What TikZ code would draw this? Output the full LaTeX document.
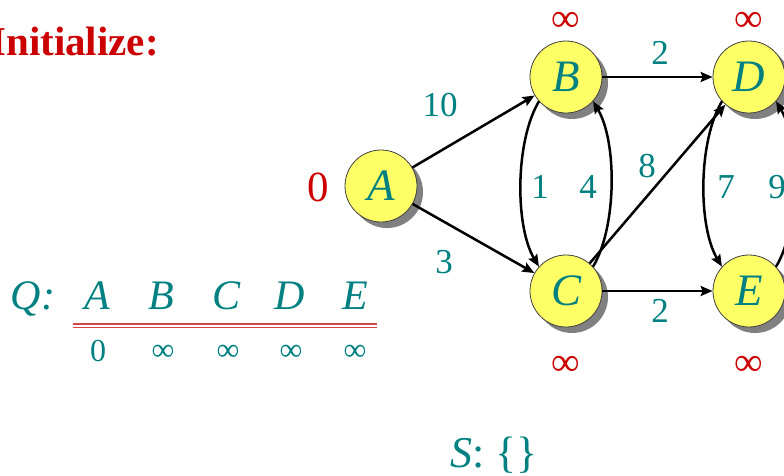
\documentclass[tikz,border=0pt]{standalone}
\usepackage{fontspec}
\setmainfont{Liberation Serif}
\usetikzlibrary{arrows.meta,shadows}
\definecolor{tealc}{RGB}{0,128,128}
\definecolor{redc}{RGB}{204,0,0}
\definecolor{nodeyellow}{RGB}{255,255,102}
\definecolor{dlinec}{RGB}{215,70,70}
\definecolor{shadowc}{RGB}{128,128,128}
\newcommand\fsz[1]{\fontsize{#1}{#1}\selectfont}
\begin{document}
\begin{tikzpicture}[x=1pt,y=-1pt,
  vert/.style={circle,draw=black!75,line width=0.8pt,fill=nodeyellow,minimum size=72pt,inner sep=0pt,
    text=tealc,font=\fsz{45}\itshape,
    drop shadow={shadow xshift=6pt,shadow yshift=-6pt,fill=shadowc,opacity=1}},
  edgearrow/.style={line width=2.5pt,-{Stealth[length=12pt,width=10pt,inset=2pt]}},
  wt/.style={text=tealc,font=\fsz{35}},
  dist/.style={text=redc,font=\fsz{40}},
  dzero/.style={text=redc,font=\fsz{43}},
  qtxt/.style={text=tealc,font=\fsz{42}\itshape,anchor=base},
  qval/.style={text=tealc,font=\fsz{32}},
  dline/.style={draw=dlinec,line width=1.2pt}
]
\useasboundingbox (0,0) rectangle (784,475);
\clip (0,0) rectangle (784,475);

\node[text=redc,font=\fsz{41}\bfseries,anchor=base east,inner sep=0pt] (title) at (159,55) {Initialize:};

% graph nodes
\node[vert] (A) at (381,186) {A};
\node[vert] (B) at (566,77) {B};
\node[vert] (C) at (566,291) {C};
\node[vert] (D) at (749,77) {D};
\node[vert] (E) at (749,291) {E};

% edges
\draw[edgearrow] (A) -- (B);
\draw[edgearrow] (A) -- (C);
\draw[edgearrow] (B) -- (D);
\draw[edgearrow] (C) -- (E);
\draw[edgearrow] (C) -- (D);
\draw[edgearrow] (B.222) .. controls +(-24,40) and +(-24,-40) .. (C.138);
\draw[edgearrow] (C.42) .. controls +(24,-40) and +(24,40) .. (B.318);
\draw[edgearrow] (D.222) .. controls +(-24,40) and +(-24,-40) .. (E.138);
\draw[edgearrow] (E.42) .. controls +(24,-40) and +(24,40) .. (D.318);

% weights
\node[wt] (w10) at (440,105) {10};
\node[wt] (w3) at (444,262) {3};
\node[wt] (wBD) at (660,53) {2};
\node[wt] (wCE) at (660,311) {2};
\node[wt] (w8) at (647,166) {8};
\node[wt] (w1) at (540,187) {1};
\node[wt] (w4) at (588,187) {4};
\node[wt] (w7) at (726,187) {7};
\node[wt] (w9) at (777,187) {9};

% distances
\node[dzero] (dA) at (318,187) {0};
\node[dist] (dB) at (566,22) {∞};
\node[dist] (dD) at (749,22) {∞};
\node[dist] (dC) at (566,366) {∞};
\node[dist] (dE) at (749,366) {∞};

% queue
\node[qtxt] (Q) at (33,309) {Q:};
\node[qtxt] (qA) at (97,309) {A};
\node[qtxt] (qB) at (161,309) {B};
\node[qtxt] (qC) at (227,309) {C};
\node[qtxt] (qD) at (290,309) {D};
\node[qtxt] (qE) at (355,309) {E};
\coordinate (l1s) at (73,324);
\coordinate (l1e) at (377,324);
\coordinate (l2s) at (73,327.5);
\coordinate (l2e) at (377,327.5);
\draw[dline] (l1s) -- (l1e);
\draw[dline] (l2s) -- (l2e);
\node[qval] (vA) at (98,351) {0};
\node[qval] (vB) at (163,353) {∞};
\node[qval] (vC) at (228,353) {∞};
\node[qval] (vD) at (291,353) {∞};
\node[qval] (vE) at (355,353) {∞};

% set S
\node[text=tealc,font=\fsz{44},anchor=base] (S) at (494,467) {\textit{S}: \{\}};
\end{tikzpicture}
\end{document}
